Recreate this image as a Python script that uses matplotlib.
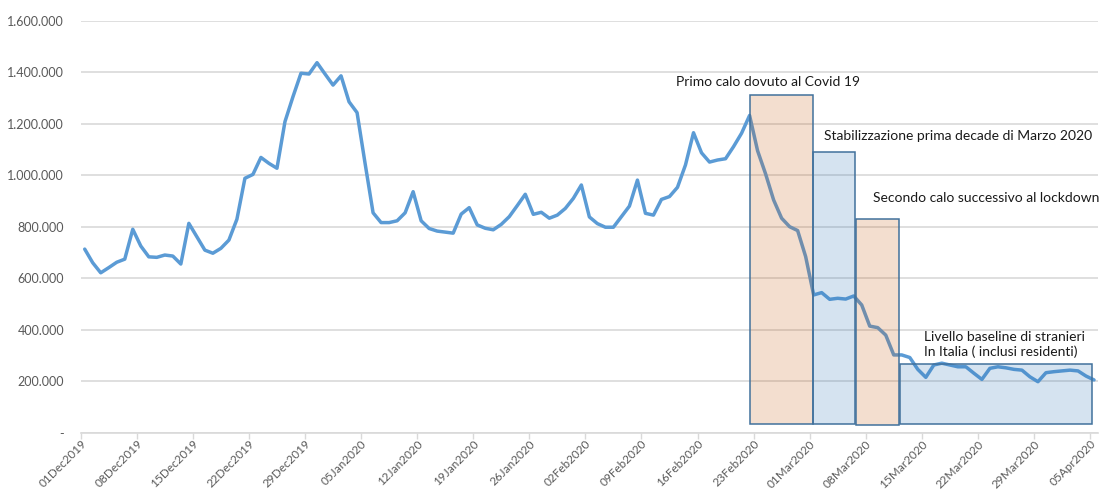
import matplotlib
matplotlib.use("Agg")
import matplotlib.pyplot as plt
from matplotlib.patches import Rectangle
from matplotlib.ticker import FuncFormatter, FixedLocator
from matplotlib.transforms import ScaledTranslation

plt.rcParams['font.family'] = ['Lato', 'DejaVu Sans']

# ---- data -------------------------------------------------------------
tick_labels = ["01Dec2019", "08Dec2019", "15Dec2019", "22Dec2019", "29Dec2019",
               "05Jan2020", "12Jan2020", "19Jan2020", "26Jan2020", "02Feb2020",
               "09Feb2020", "16Feb2020", "23Feb2020", "01Mar2020", "08Mar2020",
               "15Mar2020", "22Mar2020", "29Mar2020", "05Apr2020"]

# daily values 01Dec2019 .. 05Apr2020 (127 days)
values = [
    713000, 660000, 621000, 641000, 662000, 674000, 790000, 725000, 683000, 681000,
    690000, 686000, 655000, 813000, 761000, 709000, 697000, 716000, 748000, 829000,
    988000, 1003000, 1069000, 1046000, 1027000, 1208000, 1305000, 1396000, 1393000, 1437000,
    1393000, 1350000, 1386000, 1285000, 1243000, 1046000, 854000, 816000, 816000, 823000,
    854000, 936000, 823000, 793000, 783000, 779000, 775000, 849000, 874000, 807000,
    794000, 788000, 809000, 839000, 882000, 926000, 848000, 856000, 833000, 845000,
    871000, 910000, 962000, 838000, 812000, 798000, 798000, 839000, 880000, 981000,
    852000, 845000, 906000, 917000, 953000, 1040000, 1165000, 1087000, 1051000, 1059000,
    1064000, 1111000, 1163000, 1232000, 1095000, 1005000, 904000, 833000, 800000, 785000,
    684000, 535000, 544000, 518000, 522000, 519000, 531000, 496000, 414000, 408000,
    379000, 302000, 302000, 292000, 246000, 215000, 263000, 270000, 263000, 256000,
    256000, 231000, 207000, 250000, 256000, 252000, 246000, 243000, 217000, 198000,
    233000, 237000, 240000, 243000, 240000, 220000, 205000,
]

# highlighted periods: (start, end) in days from 01Dec2019, bottom, top
box_start = [83.5, 91.4, 96.8, 102.3]
box_end = [91.4, 96.6, 102.2, 126.3]
box_bottom = [32000, 32000, 30000, 32000]
box_top = [1311000, 1090000, 830000, 267000]
box_kind = ["orange", "blue", "orange", "blue"]

notes = ["Primo calo dovuto al Covid 19",
         "Stabilizzazione prima decade di Marzo 2020",
         "Secondo calo successivo al lockdown",
         "Livello baseline di stranieri\nIn Italia ( inclusi residenti)"]
note_x = [74.3, 92.85, 98.96, 105.3]
note_y = [1362000, 1152000, 912000, 342000]

# ---- figure -----------------------------------------------------------
fig = plt.figure(figsize=(11.01, 4.93), dpi=100)
ax = fig.add_axes([0.0733, 0.1223, 0.9240, 0.8357])

x = [i + 0.5 for i in range(len(values))]
ax.plot(x, values, color="#5B9BD5", lw=2.5, solid_joinstyle="round",
        solid_capstyle="round", zorder=3)

fills = {"orange": (197/255, 90/255, 17/255, 0.2),
         "blue": (46/255, 117/255, 182/255, 0.2)}
for s, e, b, t, k in zip(box_start, box_end, box_bottom, box_top, box_kind):
    ax.add_patch(Rectangle((s, b), e - s, t - b, facecolor=fills[k],
                           edgecolor="#41719C", lw=1.1, zorder=4))

for txt, tx, ty in zip(notes, note_x, note_y):
    ax.text(tx, ty, txt, ha="left", va="center", fontsize=10,
            color="#1a1a1a", linespacing=1.25, zorder=5)

ax.set_xlim(0, 127)
ax.set_ylim(0, 1600000)

ax.xaxis.set_major_locator(FixedLocator([7 * i for i in range(len(tick_labels))]))
ax.set_xticklabels(tick_labels, rotation=45, ha="right", va="top",
                   rotation_mode="anchor", fontsize=8.5, color="#595959")
offset = ScaledTranslation(0.05, -0.07, fig.dpi_scale_trans)
for lab in ax.get_xticklabels():
    lab.set_transform(lab.get_transform() + offset)
ax.set_yticks([200000 * i for i in range(9)])


def fmt(v, pos):
    if v == 0:
        return "-"
    return f"{int(v):,}".replace(",", ".")


ax.yaxis.set_major_formatter(FuncFormatter(fmt))
ax.tick_params(axis="y", length=0, labelsize=9, labelcolor="#595959", pad=12)
ax.tick_params(axis="x", length=4, width=1, color="#D9D9D9", pad=0)

ax.grid(axis="y", color="#D9D9D9", lw=1.2, zorder=0)
ax.set_axisbelow(True)
for side in ["top", "right", "left"]:
    ax.spines[side].set_visible(False)
ax.spines["bottom"].set_color("#D9D9D9")
ax.spines["bottom"].set_linewidth(1.2)

fig.savefig("out.png", dpi=100)
